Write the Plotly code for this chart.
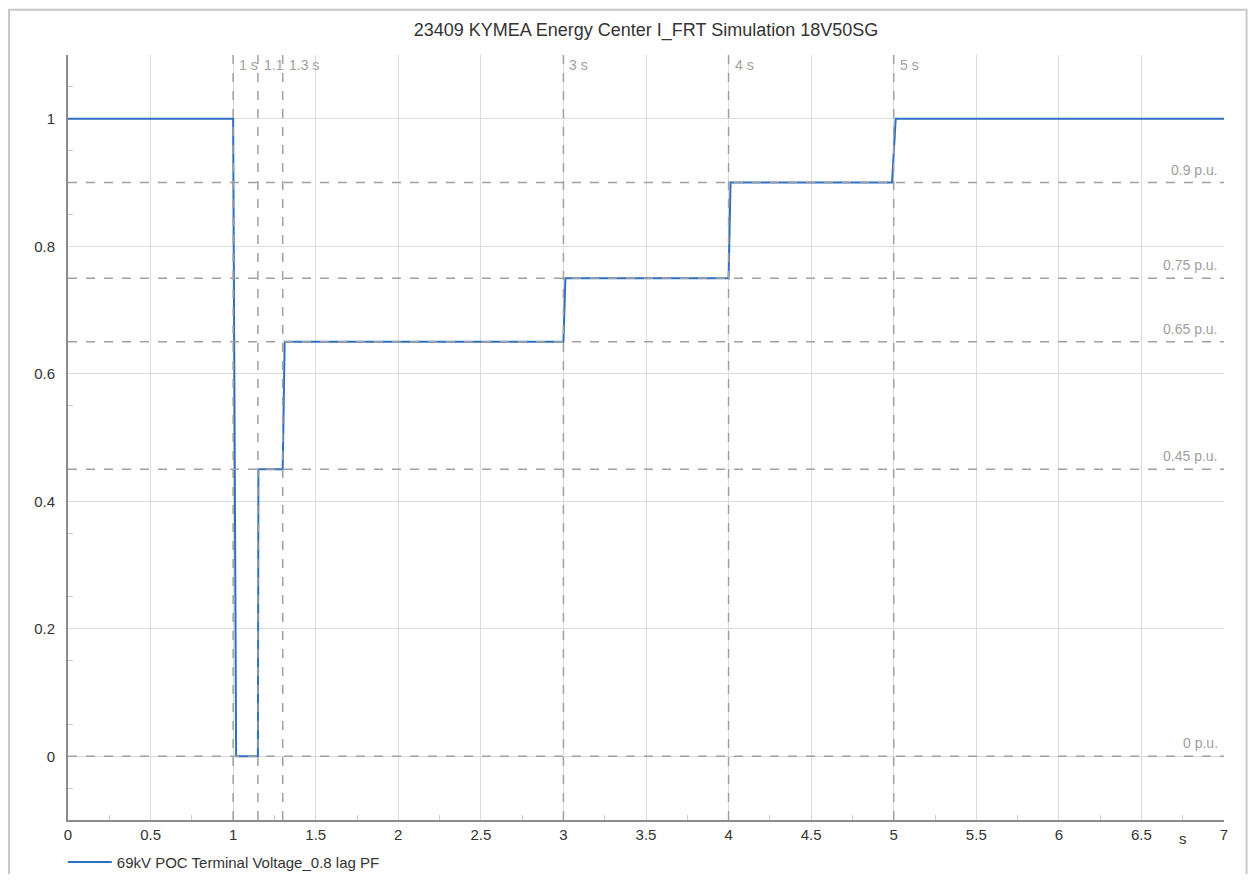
import plotly.graph_objects as go

# ---- data ----
time_s = [0.0, 1.0, 1.018, 1.15, 1.153, 1.30, 1.312, 3.0, 3.012, 4.0, 4.012, 4.99, 5.012, 7.0]
voltage_pu = [1.0, 1.0, 0.0, 0.0, 0.45, 0.45, 0.65, 0.65, 0.75, 0.75, 0.9, 0.9, 1.0, 1.0]
series_name = "69kV POC Terminal Voltage_0.8 lag PF"
title_text = "23409 KYMEA Energy Center I_FRT Simulation 18V50SG"

event_times = [1.0, 1.15, 1.3, 3.0, 4.0, 5.0]
event_labels = ["1 s", "1.1", "1.3 s", "3 s", "4 s", "5 s"]
level_values = [0.9, 0.75, 0.65, 0.45, 0.0]
level_labels = ["0.9 p.u.", "0.75 p.u.", "0.65 p.u.", "0.45 p.u.", "0 p.u."]

x_tickvals = [0, 0.5, 1, 1.5, 2, 2.5, 3, 3.5, 4, 4.5, 5, 5.5, 6, 6.5, 7]
x_ticktext = ["0", "0.5", "1", "1.5", "2", "2.5", "3", "3.5", "4", "4.5", "5", "5.5", "6", "6.5", "7"]
y_tickvals = [0, 0.2, 0.4, 0.6, 0.8, 1.0]
y_ticktext = ["0", "0.2", "0.4", "0.6", "0.8", "1"]

FONT = "Liberation Sans, Arial, sans-serif"
REF_GRAY = "#a0a0a0"
TEXT = "#333333"

fig = go.Figure()
fig.add_trace(go.Scatter(
    x=time_s, y=voltage_pu, mode="lines", name=series_name,
    line=dict(color="#2f6fbf", width=2),
))

shapes = []
annotations = []
for t, lab in zip(event_times, event_labels):
    shapes.append(dict(type="line", xref="x", yref="paper", x0=t, x1=t, y0=0, y1=1,
                       line=dict(color=REF_GRAY, width=1.5, dash="dash"), layer="above"))
    annotations.append(dict(x=t, y=1, xref="x", yref="paper", text=lab, showarrow=False,
                            xanchor="left", yanchor="middle", xshift=4, yshift=-10,
                            font=dict(family=FONT, size=14, color=REF_GRAY)))
for v, lab in zip(level_values, level_labels):
    shapes.append(dict(type="line", xref="paper", yref="y", x0=0, x1=1, y0=v, y1=v,
                       line=dict(color=REF_GRAY, width=1.5, dash="dash"), layer="above"))
    annotations.append(dict(x=1, y=v, xref="paper", yref="y", text=lab, showarrow=False,
                            xanchor="right", yanchor="middle", xshift=-4, yshift=13,
                            font=dict(family=FONT, size=14, color=REF_GRAY)))

# unit label on x axis
annotations.append(dict(x=6.75, y=0, xref="x", yref="paper", text="s", showarrow=False,
                        xanchor="center", yanchor="middle", yshift=-18,
                        font=dict(family=FONT, size=15, color=TEXT)))

# outer frame
shapes.append(dict(type="rect", xref="paper", yref="paper",
                   x0=-0.0510, x1=1.0195, y0=-0.12, y1=1.059,
                   line=dict(color="#c8c8c8", width=2), layer="below"))

fig.update_layout(
    width=1240, height=866,
    margin=dict(l=60, r=24, t=47, b=54, autoexpand=False),
    paper_bgcolor="white", plot_bgcolor="white",
    title=dict(text=title_text, x=0.5, xref="paper", xanchor="center",
               y=0.9746, yanchor="middle",
               font=dict(family=FONT, size=18, color=TEXT)),
    font=dict(family=FONT, size=15, color=TEXT),
    showlegend=True,
    legend=dict(orientation="h", xref="container", yref="container",
                x=0.0442, y=0.0135, xanchor="left", yanchor="middle",
                font=dict(family=FONT, size=15, color=TEXT),
                bgcolor="rgba(0,0,0,0)", itemwidth=44),
    shapes=shapes, annotations=annotations,
)
fig.update_xaxes(
    range=[0, 7], tickvals=x_tickvals, ticktext=x_ticktext,
    showgrid=True, gridcolor="#dcdcdc", gridwidth=1,
    showline=True, linecolor="#8c8c8c", linewidth=2,
    ticks="", zeroline=False, automargin=False,
    tickfont=dict(family=FONT, size=15, color=TEXT),
    minor=dict(tick0=0.25, dtick=0.5, ticks="inside", ticklen=5, tickcolor="#cccccc", showgrid=False),
)
fig.update_yaxes(
    range=[-0.1, 1.1], tickvals=y_tickvals, ticktext=y_ticktext,
    showgrid=True, gridcolor="#dcdcdc", gridwidth=1,
    showline=True, linecolor="#8c8c8c", linewidth=2,
    ticks="", zeroline=False, ticklabelstandoff=8, automargin=False,
    tickfont=dict(family=FONT, size=15, color=TEXT),
    minor=dict(tick0=0.05, dtick=0.1, ticks="inside", ticklen=5, tickcolor="#cccccc", showgrid=False),
)

fig.write_html("out.html")
